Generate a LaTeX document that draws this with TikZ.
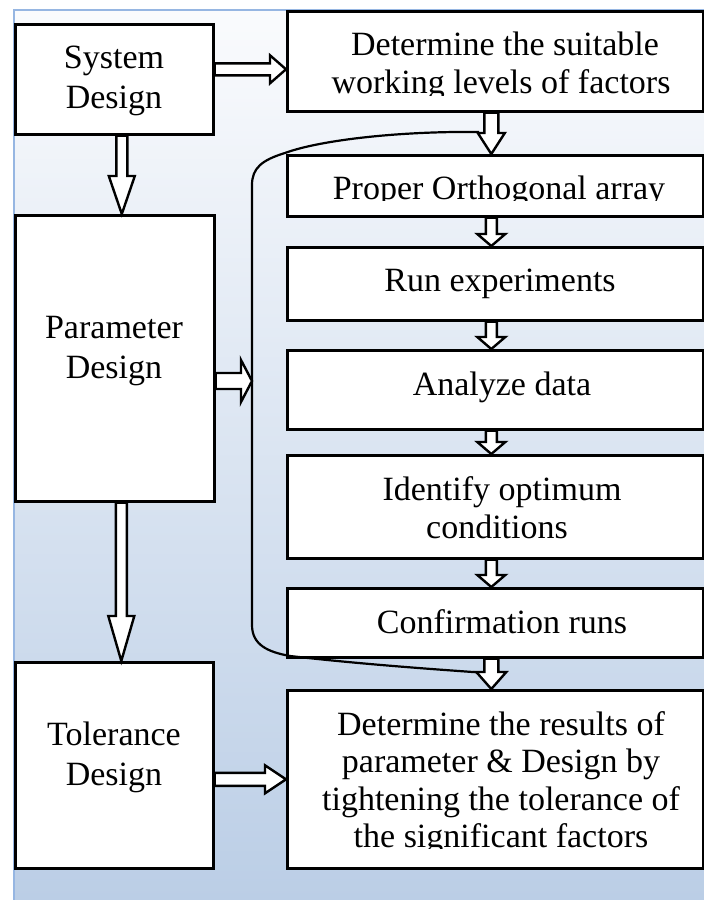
\documentclass[tikz,border=0pt]{standalone}
\usepackage{fontspec}
\setmainfont{Liberation Serif}
\usetikzlibrary{calc}

\definecolor{bgtop}{RGB}{250,251,253}
\definecolor{bgbot}{RGB}{187,206,230}
\definecolor{bgedge}{RGB}{150,182,226}

% hollow block arrow pointing right: tail, tip, shaft half-width, head half-width, head length
\newcommand\harr[5]{%
  \draw[blockarrow] let \p1=(#1), \p2=(#2) in
    (\x1,\y2+#3) -- (\x2-#5,\y2+#3) -- (\x2-#5,\y2+#4) -- (\x2,\y2)
    -- (\x2-#5,\y2-#4) -- (\x2-#5,\y2-#3) -- (\x1,\y2-#3) -- cycle;}
% hollow block arrow pointing down: tail, tip, shaft half-width, head half-width, head length
\newcommand\varr[5]{%
  \draw[blockarrow] let \p1=(#1), \p2=(#2) in
    (\x2-#3,\y1) -- (\x2-#3,\y2+#5) -- (\x2-#4,\y2+#5) -- (\x2,\y2)
    -- (\x2+#4,\y2+#5) -- (\x2+#3,\y2+#5) -- (\x2+#3,\y1) -- cycle;}

\begin{document}
\begin{tikzpicture}[x=1pt,y=-1pt,
  box/.style={draw, line width=2.6pt, fill=white, inner sep=0pt, anchor=north west},
  lbl/.style={font=\fontsize{34}{39}\selectfont, inner sep=0pt, anchor=base},
  blockarrow/.style={draw, fill=white, line width=2.4pt, line join=miter},
  loopline/.style={draw, line width=2.2pt}]

\useasboundingbox (0,0) rectangle (704,900);

% backdrop
\shade[top color=bgtop, bottom color=bgbot] (14,10) rectangle (704,900);
\draw[bgedge, line width=1.5pt] (14,900) -- (14,10) -- (704,10);

% left column
\node[box, minimum width=198pt, minimum height=110pt] (sys) at (14,23) {};
\node[box, minimum width=199pt, minimum height=286pt] (par) at (14,214) {};
\node[box, minimum width=198pt, minimum height=206pt] (tol) at (14,661) {};

% right column
\node[box, minimum width=416pt, minimum height=100pt] (det) at (286,10) {};
\node[box, minimum width=416pt, minimum height=61pt]  (ort) at (286,154) {};
\node[box, minimum width=416pt, minimum height=73pt]  (run) at (286,246) {};
\node[box, minimum width=416pt, minimum height=79pt]  (ana) at (286,349) {};
\node[box, minimum width=416pt, minimum height=103pt] (idn) at (286,454) {};
\node[box, minimum width=416pt, minimum height=69pt]  (con) at (286,587) {};
\node[box, minimum width=416pt, minimum height=178pt] (res) at (286,689) {};

% labels
\node[lbl] (sysA) at (114,68)  {System};
\node[lbl] (sysB) at (114,108) {Design};
\node[lbl] (parA) at (114,338) {Parameter};
\node[lbl] (parB) at (114,378) {Design};
\node[lbl] (tolA) at (114,745) {Tolerance};
\node[lbl] (tolB) at (114,785) {Design};

\begin{scope}
  \clip (288,12) rectangle (700,95);
  \node[lbl] (detA) at (505,55) {Determine the suitable};
  \node[lbl] (detB) at (501,93) {working levels of factors};
\end{scope}
\begin{scope}
  \clip (288,156) rectangle (700,200.5);
  \node[lbl] (ortA) at (499,199) {Proper Orthogonal array};
\end{scope}
\node[lbl] (runA) at (500,291) {Run experiments};
\node[lbl] (anaA) at (502,395) {Analyze data};
\node[lbl] (idnA) at (502,500) {Identify optimum};
\node[lbl] (idnB) at (497,538) {conditions};
\node[lbl] (conA) at (502,633) {Confirmation runs};
\begin{scope}
  \clip (288,691) rectangle (700,848);
  \node[lbl] (resA) at (501,735) {Determine the results of};
  \node[lbl] (resB) at (501,772) {parameter \& Design by};
  \node[lbl] (resC) at (501,810) {tightening the tolerance of};
  \node[lbl] (resD) at (501,847) {the significant factors};
\end{scope}

% loop bracket around the parameter-design steps
\coordinate (cTop) at (479,132);
\coordinate (cBot) at (487,673);
\coordinate (bend) at (252,381);
\draw[loopline] (cTop) .. controls (400,131) and (320,140) .. (285,153)
  .. controls (262,160) and (252,168) .. (252,185) -- (bend) -- (252,625)
  .. controls (252,645) and (268,652) .. (290,656)
  .. controls (360,664) and (430,669) .. (cBot);

% block arrows
\coordinate (a1) at ([yshift=10pt]sys.east);
\harr{a1}{a1 -| det.west}{6pt}{14pt}{16pt}
\varr{[xshift=7pt]sys.south}{[xshift=7pt]par.north}{5.5pt}{13pt}{38pt}
\varr{[xshift=7pt]par.south}{[xshift=7pt]tol.north}{5.5pt}{13pt}{45pt}
\coordinate (a4) at ([yshift=-24pt]par.east);
\harr{a4}{bend}{8pt}{21pt}{11pt}
\coordinate (a5) at ([yshift=-14pt]tol.east);
\harr{a5}{a5 -| res.west}{6.5pt}{14pt}{21pt}

\varr{[xshift=-4pt]det.south}{[xshift=-4pt]ort.north}{7pt}{13.5pt}{21pt}
\varr{[xshift=-4pt]ort.south}{[xshift=-4pt]run.north}{5.5pt}{14pt}{12pt}
\varr{[xshift=-4pt]run.south}{[xshift=-4pt]ana.north}{5.5pt}{14pt}{12pt}
\varr{[xshift=-4pt]ana.south}{[xshift=-4pt]idn.north}{5.5pt}{14pt}{12pt}
\varr{[xshift=-4pt]idn.south}{[xshift=-4pt]con.north}{5.5pt}{14pt}{12pt}
\varr{[xshift=-4pt]con.south}{[xshift=-4pt]res.north}{7pt}{15pt}{17pt}

\end{tikzpicture}
\end{document}
